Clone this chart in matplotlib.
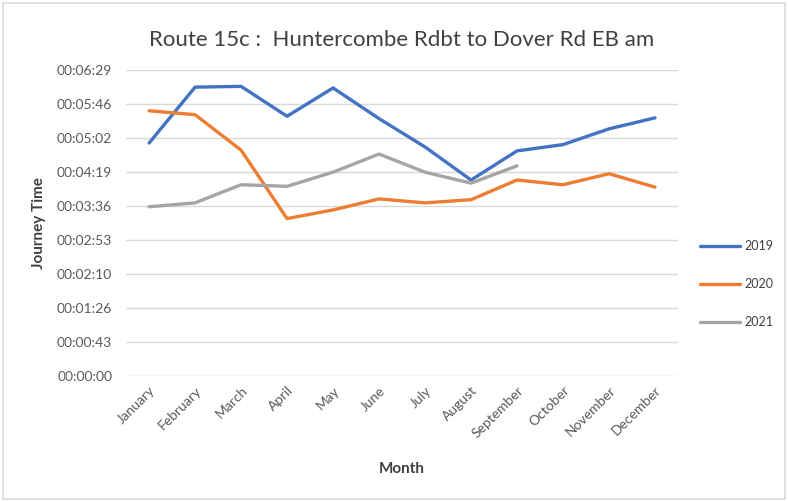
import matplotlib
matplotlib.use("Agg")
import matplotlib.pyplot as plt
from matplotlib.ticker import FixedLocator, FuncFormatter
from matplotlib.patches import Rectangle

months = ["January", "February", "March", "April", "May", "June", "July",
          "August", "September", "October", "November", "December"]
# journey times in seconds
y2019 = [296, 367, 368, 330, 366, 327, 291, 249, 286, 294, 314, 328]
y2020 = [337, 332, 287, 200, 211, 225, 220, 224, 249, 243, 257, 240]
y2021 = [215, 220, 243, 241, 259, 282, 259, 245, 267]
series_names = ["2019", "2020", "2021"]
colors = ["#4472C4", "#ED7D31", "#A5A5A5"]

plt.rcParams['font.family'] = ['Lato', 'DejaVu Sans']

fig = plt.figure(figsize=(7.88, 5.01), dpi=100)
ax = fig.add_axes([0.16, 0.2495, 0.7004, 0.6108])

x = list(range(len(months)))
for data, name, c in zip([y2019, y2020, y2021], series_names, colors):
    ax.plot(x[:len(data)], data, color=c, lw=2.4, label=name,
            solid_capstyle='round', solid_joinstyle='round')

step = 43.2
ticks = [i * step for i in range(10)]
ax.set_ylim(0, ticks[-1])
ax.set_xlim(-0.5, len(months) - 0.5)
ax.yaxis.set_major_locator(FixedLocator(ticks))

def fmt(v, pos):
    s = int(round(v))
    return "%02d:%02d:%02d" % (s // 3600, (s % 3600) // 60, s % 60)

ax.yaxis.set_major_formatter(FuncFormatter(fmt))
ax.grid(axis='y', color='#d9d9d9', lw=1)
ax.set_axisbelow(True)
for sp in ax.spines.values():
    sp.set_visible(False)
ax.tick_params(axis='both', length=0, labelsize=10, colors='#595959')
ax.tick_params(axis='y', pad=10)
ax.set_xticks(x)
ax.set_xticklabels(months, rotation=45, ha='right', rotation_mode='anchor')
ax.tick_params(axis='x', pad=6)

ax.set_title("Route 15c :  Huntercombe Rdbt to Dover Rd EB am", fontsize=16,
             color='#404040', pad=17)
ax.set_xlabel("Month", fontsize=11, fontweight='bold', color='#404040', labelpad=16)
ax.set_ylabel("Journey Time", fontsize=11, fontweight='bold', color='#404040', labelpad=8)

leg = ax.legend(loc='center left', bbox_to_anchor=(1.02, 0.30), frameon=False,
                fontsize=9, handlelength=3.2, labelspacing=2.1, handletextpad=0.3)
for t in leg.get_texts():
    t.set_color('#404040')

fig.patches.append(Rectangle((0.004, 0.004), 0.992, 0.99, transform=fig.transFigure,
                             fill=False, edgecolor='#d9d9d9', lw=1.2))

fig.savefig("out.png", dpi=100)
